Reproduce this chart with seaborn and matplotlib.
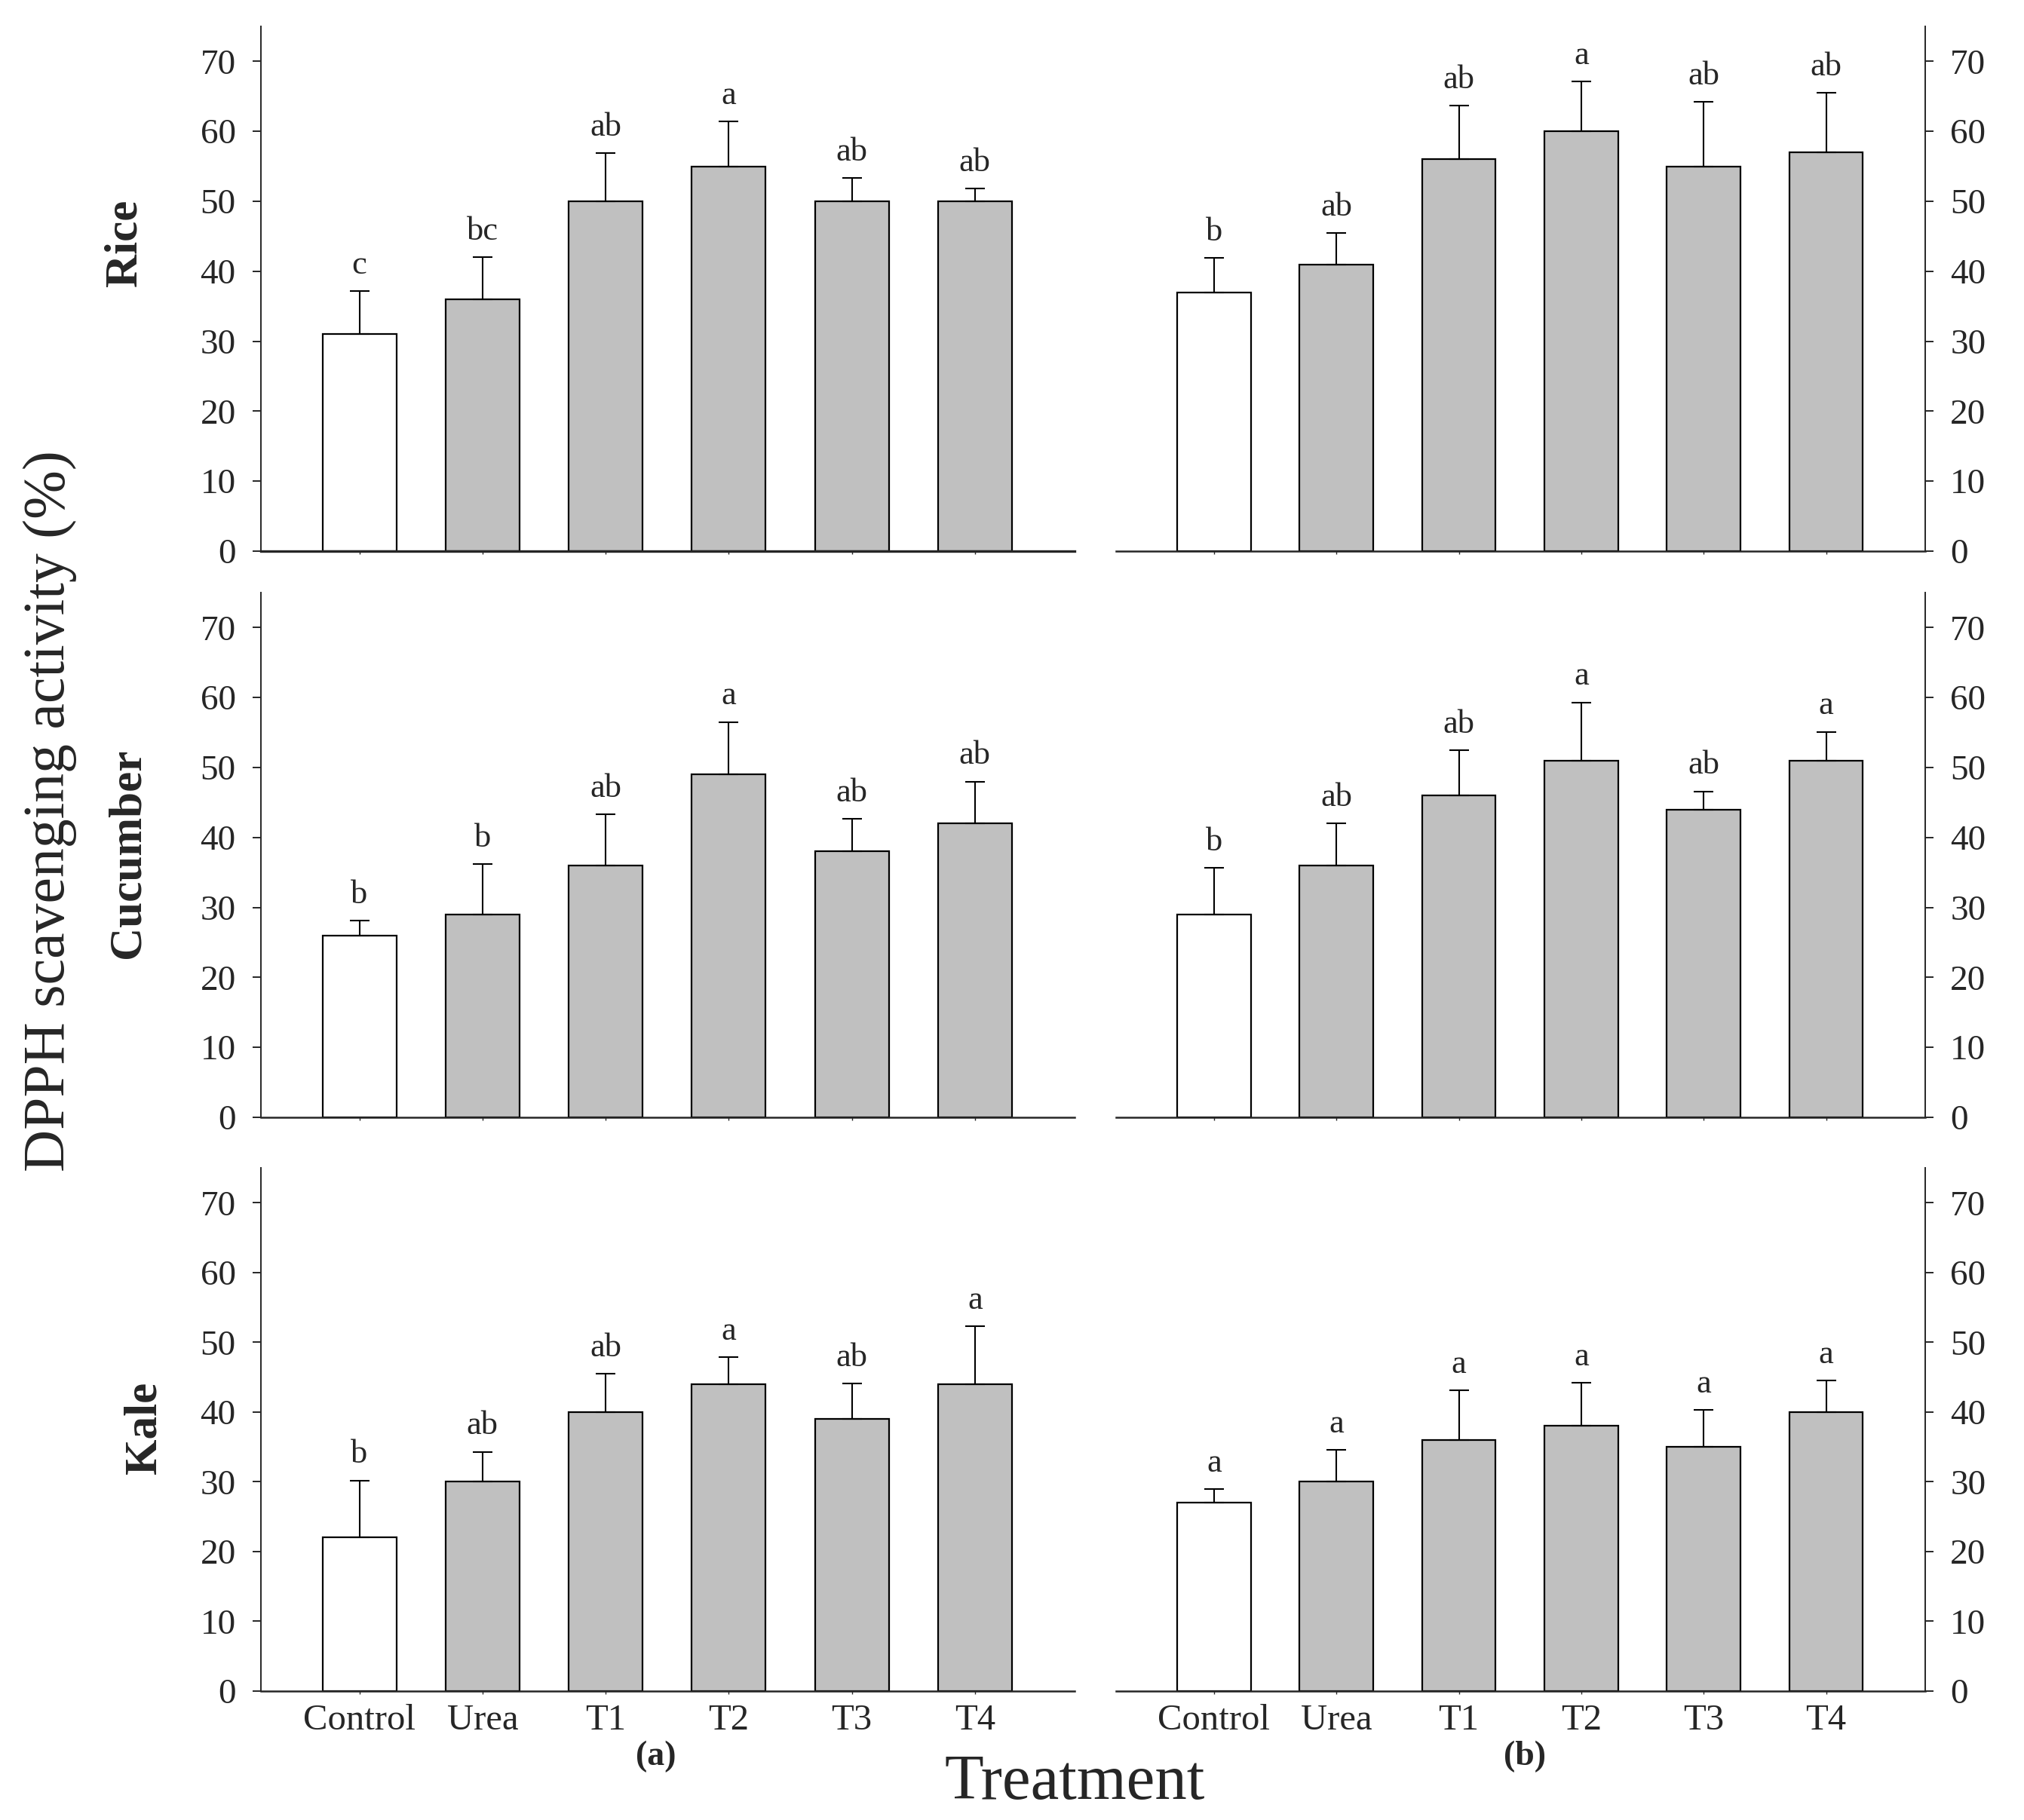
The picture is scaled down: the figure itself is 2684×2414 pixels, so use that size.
import numpy as np
import matplotlib
matplotlib.use('Agg')
import matplotlib.pyplot as plt
import seaborn as sns

sns.set_style('ticks')
plt.rcParams['font.family'] = ['Liberation Serif', 'DejaVu Serif']

treatments = ['Control', 'Urea', 'T1', 'T2', 'T3', 'T4']
crops = ['Rice', 'Cucumber', 'Kale']

# column (a)
rice_a = [31.0, 36.0, 50.0, 55.0, 50.0, 50.0]
rice_a_err = [6.2, 6.0, 6.9, 6.4, 3.3, 1.8]
rice_a_sig = ['c', 'bc', 'ab', 'a', 'ab', 'ab']

cucumber_a = [26.0, 29.0, 36.0, 49.0, 38.0, 42.0]
cucumber_a_err = [2.1, 7.2, 7.3, 7.5, 4.7, 6.0]
cucumber_a_sig = ['b', 'b', 'ab', 'a', 'ab', 'ab']

kale_a = [22.0, 30.0, 40.0, 44.0, 39.0, 44.0]
kale_a_err = [8.2, 4.3, 5.5, 3.9, 5.1, 8.3]
kale_a_sig = ['b', 'ab', 'ab', 'a', 'ab', 'a']

# column (b)
rice_b = [37.0, 41.0, 56.0, 60.0, 55.0, 57.0]
rice_b_err = [4.9, 4.5, 7.7, 7.1, 9.2, 8.5]
rice_b_sig = ['b', 'ab', 'ab', 'a', 'ab', 'ab']

cucumber_b = [29.0, 36.0, 46.0, 51.0, 44.0, 51.0]
cucumber_b_err = [6.7, 6.0, 6.5, 8.3, 2.6, 4.1]
cucumber_b_sig = ['b', 'ab', 'ab', 'a', 'ab', 'a']

kale_b = [27.0, 30.0, 36.0, 38.0, 35.0, 40.0]
kale_b_err = [2.0, 4.6, 7.1, 6.2, 5.3, 4.5]
kale_b_sig = ['a', 'a', 'a', 'a', 'a', 'a']

yticks = [0, 10, 20, 30, 40, 50, 60, 70]

panels = [
    [(rice_a, rice_a_err, rice_a_sig), (rice_b, rice_b_err, rice_b_sig)],
    [(cucumber_a, cucumber_a_err, cucumber_a_sig), (cucumber_b, cucumber_b_err, cucumber_b_sig)],
    [(kale_a, kale_a_err, kale_a_sig), (kale_b, kale_b_err, kale_b_sig)],
]

palette = {t: ('white' if t == 'Control' else '#c0c0c0') for t in treatments}

W, H = 2684, 2414
fig = plt.figure(figsize=(W / 100, H / 100), dpi=100)

# axes boxes in pixels: (zero line y, top y) per row, (left x, right x) per column
row_px = [(731, 35), (1482, 786), (2243, 1549)]
col_px = [(346, 1425), (1480, 2553)]

for r, (y0, y1) in enumerate(row_px):
    for c, (x0, x1) in enumerate(col_px):
        vals, errs, sig = panels[r][c]
        ax = fig.add_axes([x0 / W, 1 - y0 / H, (x1 - x0) / W, (y0 - y1) / H])
        sns.barplot(x=treatments, y=vals, hue=treatments, palette=palette,
                    legend=False, width=0.6, edgecolor='black', linewidth=1.6,
                    errorbar=None, ax=ax)
        xs = np.arange(len(treatments))
        ax.errorbar(xs, vals, yerr=[np.zeros(len(vals)), errs], fmt='none',
                    ecolor='black', elinewidth=1.5, capsize=9.5, capthick=1.5)
        for i in range(len(treatments)):
            ax.text(xs[i], vals[i] + errs[i] + 2.5, sig[i], ha='center',
                    va='baseline', fontsize=32)

        ax.set_xlim(-0.8, 5.81)
        ax.set_ylim(0, 75)
        ax.set_yticks(yticks)
        ax.set_xlabel('')
        ax.set_ylabel('')
        ax.spines['top'].set_visible(False)
        ax.spines['bottom'].set_linewidth(2.4 if (r == 0 and c == 0) else 1.8)
        if c == 0:
            ax.spines['right'].set_visible(False)
            ax.spines['left'].set_linewidth(1.4)
        else:
            ax.spines['left'].set_visible(False)
            ax.spines['right'].set_visible(True)
            ax.spines['right'].set_linewidth(1.4)
            ax.yaxis.tick_right()
        ax.tick_params(axis='y', direction='out', length=8, width=1.4,
                       labelsize=34, pad=16)
        ax.tick_params(axis='x', direction='out', length=3, width=1.0,
                       labelsize=35, pad=9, labelbottom=(r == 2))

# row labels
fig.text(165 / W, 1 - 322 / H, 'Rice', rotation=90, ha='center', va='center',
         fontweight='bold', fontsize=44)
fig.text(170 / W, 1 - 1132 / H, 'Cucumber', rotation=90, ha='center',
         va='center', fontweight='bold', fontsize=44)
fig.text(192 / W, 1 - 1894 / H, 'Kale', rotation=90, ha='center', va='center',
         fontweight='bold', fontsize=44)

# shared axis titles
fig.text(66 / W, 1 - 1076 / H, 'DPPH scavenging activity (%)', rotation=90,
         ha='center', va='center', fontsize=56)
fig.text(1425 / W, 1 - 2386 / H, 'Treatment', ha='center', va='baseline',
         fontsize=61)

# column tags
fig.text(870 / W, 1 - 2330 / H, '(a)', ha='center', va='center',
         fontweight='bold', fontsize=33)
fig.text(2022 / W, 1 - 2330 / H, '(b)', ha='center', va='center',
         fontweight='bold', fontsize=33)

fig.savefig('out.png', dpi=100)
